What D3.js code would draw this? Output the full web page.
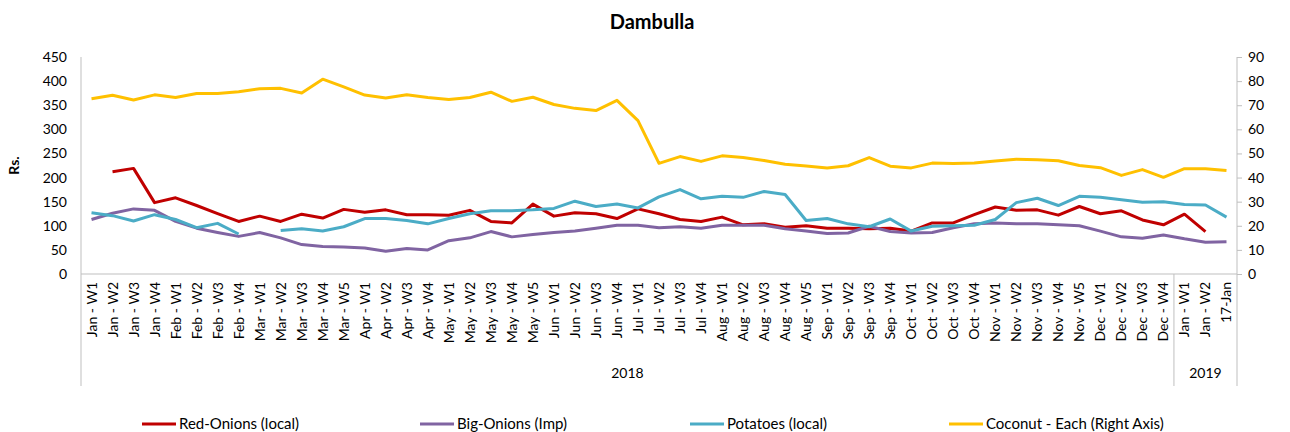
<!DOCTYPE html>
<html>
<head>
<meta charset="utf-8">
<script src="https://cdn.jsdelivr.net/npm/d3@7"></script>
<style>
	body { margin:0; background:#fff; }
	text { font-family: Lato, "Open Sans", sans-serif; fill:#000; }
</style>
</head>
<body>
<div id="chart"></div>
<script>

// categories (weekly), 2018 then 2019
const categories = [
	"Jan - W1","Jan - W2","Jan - W3","Jan - W4",
	"Feb - W1","Feb - W2","Feb - W3","Feb - W4",
	"Mar - W1","Mar - W2","Mar - W3","Mar - W4","Mar - W5",
	"Apr - W1","Apr - W2","Apr - W3","Apr - W4",
	"May - W1","May - W2","May - W3","May - W4","May - W5",
	"Jun - W1","Jun - W2","Jun - W3","Jun - W4",
	"Jul - W1","Jul - W2","Jul - W3","Jul - W4",
	"Aug - W1","Aug - W2","Aug - W3","Aug - W4","Aug - W5",
	"Sep - W1","Sep - W2","Sep - W3","Sep - W4",
	"Oct - W1","Oct - W2","Oct - W3","Oct - W4",
	"Nov - W1","Nov - W2","Nov - W3","Nov - W4","Nov - W5",
	"Dec - W1","Dec - W2","Dec - W3","Dec - W4",
	"Jan - W1","Jan - W2","17-Jan"
];
const yearLabels = ["2018", "2019"];
const yearCounts = [52, 3];

const redOnions = [null,212,219,148,158,142,125,109,120,109,124,116,134,128,133,123,123,122,132,109,106,145,120,127,125,115,135,125,113,109,118,102,104,97,100,95,95,94,95,89,106,106,123,139,132,133,122,140,125,131,112,102,124,88,null];
const bigOnions = [113,126,135,132,109,95,86,78,86,75,61,57,56,54,47,53,50,69,75,88,77,82,86,89,95,101,101,96,98,95,101,101,101,94,89,84,85,99,88,85,86,96,104,106,104,104,102,100,89,77,74,81,73,66,67];
const potatoes = [127,121,110,123,113,96,105,83,null,90,94,89,98,115,115,111,104,115,125,131,131,133,136,151,140,145,137,160,175,156,161,159,171,165,111,115,104,98,114,89,99,100,101,113,148,157,142,161,159,154,149,150,144,143,118];
const coconut = [72.7,74.1,72.2,74.3,73.2,74.9,74.9,75.6,76.8,77.0,75.1,80.8,77.6,74.2,73.0,74.3,73.2,72.4,73.2,75.4,71.6,73.3,70.3,68.7,67.8,72.0,63.6,45.9,48.7,46.7,49.0,48.3,47.1,45.5,44.8,44.0,44.9,48.3,44.7,44.0,46.0,45.8,46.0,46.9,47.6,47.4,47.0,45.0,44.1,40.9,43.3,40.1,43.7,43.7,42.9];

const leftTicks = [0,50,100,150,200,250,300,350,400,450];
const rightTicks = [0,10,20,30,40,50,60,70,80,90];

const seriesNames = ["Red-Onions (local)", "Big-Onions (Imp)", "Potatoes (local)", "Coconut - Each (Right Axis)"];
const seriesColors = ["#C00000", "#8064A2", "#4BACC6", "#FFC000"];


function drawChart(){

	//sizing
	const width = 1290, height = 432;
	let margin = {top:57, right:53, bottom:158, left:81};
	const plotW = width - margin.left - margin.right;
	const plotH = height - margin.top - margin.bottom;

	let svg = d3.select("#chart")
		.append("svg")
		.attr("width", width)
		.attr("height", height);

	let x = d3.scaleBand()
		.domain(d3.range(categories.length))
		.range([margin.left, margin.left + plotW])
		.padding(0);

	let yL = d3.scaleLinear().domain([0,450]).range([margin.top + plotH, margin.top]);
	let yR = d3.scaleLinear().domain([0,90]).range([margin.top + plotH, margin.top]);

	const axisColor = "#bfbfbf";
	const y0 = yL(0);

	//title
	svg.append("text")
		.attr("x", 652)
		.attr("y", 29)
		.attr("text-anchor", "middle")
		.style("font-size", "20px")
		.style("font-weight", "bold")
		.text("Dambulla");

	//left axis
	let gL = svg.append("g")
		.attr("transform", "translate(" + margin.left + ",0)")
		.call(d3.axisLeft(yL).tickValues(leftTicks).tickSize(0).tickPadding(14));
	gL.select(".domain").remove();
	gL.selectAll("text").style("font-size", "14px").style("font-family", "Lato, sans-serif");

	svg.append("line")
		.attr("x1", margin.left).attr("x2", margin.left)
		.attr("y1", margin.top).attr("y2", 386)
		.attr("stroke", axisColor);

	svg.append("text")
		.attr("transform", "translate(19," + (margin.top + plotH/2) + ") rotate(-90)")
		.attr("text-anchor", "middle")
		.style("font-size", "14px")
		.style("font-weight", "bold")
		.text("Rs.");

	//right axis
	let gR = svg.append("g")
		.attr("transform", "translate(" + (margin.left + plotW) + ",0)")
		.call(d3.axisRight(yR).tickValues(rightTicks).tickSize(5).tickSizeOuter(0).tickPadding(6));
	gR.select(".domain").remove();
	gR.selectAll("line").attr("stroke", axisColor);
	gR.selectAll("text").style("font-size", "14px").style("font-family", "Lato, sans-serif");

	svg.append("line")
		.attr("x1", margin.left + plotW).attr("x2", margin.left + plotW)
		.attr("y1", margin.top).attr("y2", 386)
		.attr("stroke", axisColor);

	//x axis line
	svg.append("line")
		.attr("x1", margin.left).attr("x2", margin.left + plotW)
		.attr("y1", y0).attr("y2", y0)
		.attr("stroke", axisColor);

	//category labels, rotated
	svg.append("g")
		.selectAll("text")
		.data(categories)
		.enter().append("text")
		.attr("transform", (d,i) => "translate(" + (x(i) + x.bandwidth()/2 + 5) + "," + (y0 + 8) + ") rotate(-90)")
		.attr("text-anchor", "end")
		.style("font-size", "14px")
		.text(d => d);

	//year groups
	let start = 0;
	yearLabels.forEach((lab, k) => {
		let x1 = x(start);
		let x2 = x(start + yearCounts[k] - 1) + x.bandwidth();
		if(k > 0){
			svg.append("line")
				.attr("x1", x1).attr("x2", x1)
				.attr("y1", y0).attr("y2", 386)
				.attr("stroke", axisColor);
		}
		svg.append("text")
			.attr("x", (x1 + x2)/2)
			.attr("y", 378)
			.attr("text-anchor", "middle")
			.style("font-size", "14px")
			.text(lab);
		start += yearCounts[k];
	});

	//lines
	const cx = (i) => x(i) + x.bandwidth()/2;
	const lineL = d3.line().defined(d => d != null).x((d,i) => cx(i)).y(d => yL(d));
	const lineR = d3.line().defined(d => d != null).x((d,i) => cx(i)).y(d => yR(d));

	const series = [redOnions, bigOnions, potatoes];
	series.forEach((s, k) => {
		svg.append("path")
			.datum(s)
			.attr("fill", "none")
			.attr("stroke", seriesColors[k])
			.attr("stroke-width", 3)
			.attr("stroke-linejoin", "round")
			.attr("d", lineL);
	});
	//coconut on right axis, drawn last
	svg.append("path")
		.datum(coconut)
		.attr("fill", "none")
		.attr("stroke", seriesColors[3])
		.attr("stroke-width", 3)
		.attr("stroke-linejoin", "round")
		.attr("d", lineR);

	//legend
	const legendX = [142, 420, 690, 949];
	let leg = svg.append("g").selectAll("g")
		.data(seriesNames)
		.enter().append("g")
		.attr("transform", (d,i) => "translate(" + legendX[i] + ",424)");
	leg.append("line")
		.attr("x1", 0).attr("x2", 34)
		.attr("stroke", (d,i) => seriesColors[i])
		.attr("stroke-width", 3);
	leg.append("text")
		.attr("x", 37)
		.attr("y", 5)
		.style("font-size", "15px")
		.text(d => d);

} //function drawChart

drawChart();
</script>
</body>
</html>
